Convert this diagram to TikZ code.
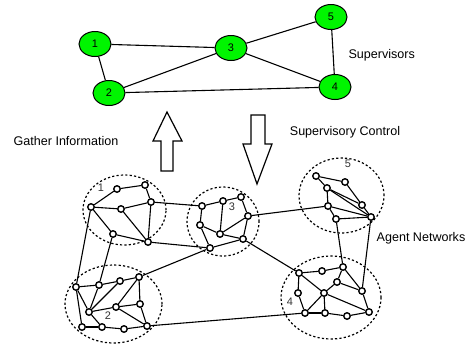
\documentclass[tikz,border=0pt]{standalone}
\usepackage{fontspec}
\setmainfont{Liberation Sans}
\usetikzlibrary{shapes.geometric}
\definecolor{supgreen}{RGB}{0,245,0}

\begin{document}
\begin{tikzpicture}[x=1bp,y=-1bp,
    sup/.style={ellipse,draw,line width=1bp,fill=supgreen,minimum width=32bp,minimum height=25bp,inner sep=0pt,font=\fontsize{11}{11}\selectfont},
    agent/.style={circle,draw,line width=1.4bp,fill=white,minimum size=6.5bp,inner sep=0pt},
    group/.style={line width=1.2bp,dash pattern=on 2.2bp off 2.2bp},
    lbl/.style={font=\fontsize{12.6}{14}\selectfont},
    num/.style={font=\fontsize{11}{11}\selectfont,text=black!80},
    link/.style={line width=1.1bp}]
    \useasboundingbox (0,0) rectangle (472,350);

    % supervisors
    \node[sup] (s1) at (95,44) {1};
    \node[sup] (s2) at (109,93) {2};
    \node[sup] (s3) at (231,48) {3};
    \node[sup] (s4) at (335,87) {4};
    \node[sup] (s5) at (331,17) {5};
    \foreach \u/\v in {s1/s3,s1/s2,s2/s3,s2/s4,s3/s4,s3/s5,s5/s4}
      \draw[link] (\u) -- (\v);
    \node[lbl,anchor=west] (suplbl) at (345,55) {Supervisors};

    % arrows between the layers
    \draw[line width=1.2bp] (167,112) -- (182,141) -- (173,141) -- (173,171) -- (161,171) -- (161,141) -- (153,141) -- cycle;
    \draw[line width=1.2bp] (251,115) -- (265,115) -- (265,144) -- (272,144) -- (257,184) -- (243,144) -- (251,144) -- cycle;
    \node[lbl] (gather) at (66,141) {Gather Information};
    \node[lbl] (control) at (345,132) {Supervisory Control};

    % agent groups
    \foreach \cx/\cy/\rx/\ry in {124.5/210/41.5/35, 223/221.5/36/34.5, 341.5/195.5/42.5/37.5, 113.5/304/48.5/39, 331/297.5/50/41.5}
      \draw[group] (\cx,\cy) ellipse [x radius=\rx bp, y radius=\ry bp];
    \node[num] (n1) at (101,188) {1};
    \node[num] (n2) at (108,316) {2};
    \node[num] (n3) at (232,207) {3};
    \node[num] (n4) at (290,302) {4};
    \node[num] (n5) at (348,164) {5};

    % agents
    \foreach \n/\x/\y in {a1/91/207, a2/117/189, a3/145/185, a4/151/202, a5/121/209, a6/113/234, a7/148/242,
        c1/202/206, c2/223/201, c3/241/197, c4/248/216, c5/200/225, c6/220/234, c7/243/239, c8/210/248,
        e1/316/176, e2/345/182, e3/327/188, e4/362/205, e5/328/206, e6/336/219, e7/371/217,
        b1/76/287, b2/99/285, b3/120/281, b4/139/277, b5/89/312, b6/116/307, b7/140/304, b8/82/327, b9/102/327, b10/124/329, b11/147/326,
        d1/299/273, d2/322/271, d3/343/267, d4/337/282, d5/298/293, d6/324/293, d7/362/291, d8/305/313, d9/325/313, d10/347/316, d11/369/312}
      \node[agent] (\n) at (\x,\y) {};

    \foreach \u/\v in {a1/a2, a2/a3, a3/a4, a1/a5, a5/a4, a1/a6, a6/a7, a4/a7, a5/a7,
        c1/c2, c2/c3, c3/c4, c1/c5, c2/c6, c5/c6, c6/c4, c4/c7, c5/c8, c6/c7, c8/c7,
        e1/e2, e2/e4, e4/e7, e1/e3, e3/e4, e3/e7, e3/e5, e5/e7, e5/e6, e6/e7,
        b1/b2, b2/b3, b3/b4, b1/b8, b1/b5, b5/b2, b5/b3, b4/b6, b4/b7, b5/b6, b6/b7, b6/b11, b7/b11, b5/b9, b8/b9, b9/b10, b10/b11,
        d1/d2, d2/d3, d3/d4, d3/d7, d4/d7, d4/d6, d1/d6, d1/d5, d5/d8, d6/d8, d6/d9, d6/d11, d8/d9, d9/d10, d10/d11, d7/d11,
        a1/b1, a6/b2, a4/c1, a7/c8, b4/c8, c4/e5, c7/d1, b11/d8, d3/e6, d7/e7}
      \draw[link] (\u) -- (\v);
    \node[lbl] (agentlbl) at (421,238) {Agent Networks};
  \end{tikzpicture}
\end{document}
